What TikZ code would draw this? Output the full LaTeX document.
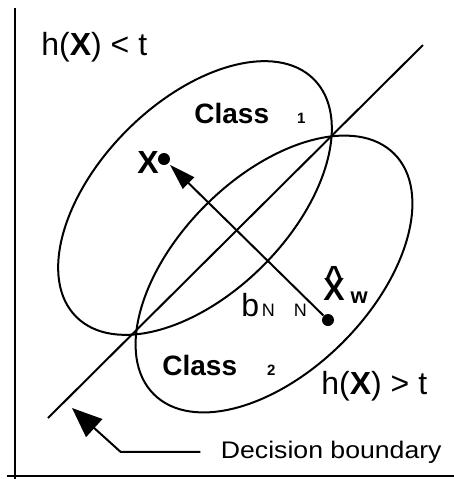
\documentclass[tikz,border=0pt]{standalone}
\usepackage{fontspec}
\setmainfont{Liberation Sans}
\usepackage{tikz}
\usetikzlibrary{arrows.meta}

\begin{document}
\begin{tikzpicture}[
    x=0.5pt, y=-0.5pt,
    axis/.style={line width=1.4pt},
    curve/.style={line width=1pt},
    vec/.style={-{Triangle[length=13pt,width=8pt]}, line width=1pt, shorten >=1pt},
    ptr/.style={-{Triangle[length=15pt,width=12pt]}, line width=1pt},
    dot/.style={circle, fill, inner sep=0pt, minimum size=6pt},
    lbl/.style={inner sep=0pt, anchor=base west, font=\fontsize{16}{19}\selectfont},
    cls/.style={inner sep=0pt, anchor=base west, font=\fontsize{14}{17}\selectfont\bfseries},
  ]
  \useasboundingbox (0,0) rectangle (454,479);

  % Axes
  \draw[axis] (15,8) -- (15,479);
  \draw[axis] (7,476) -- (454,476);

  % Class regions
  \draw[curve, rotate around={45:(195,198)}]
    (195,198) ellipse [x radius=84pt, y radius=48pt];
  \draw[curve, rotate around={45:(274,274)}]
    (274,274) ellipse [x radius=85pt, y radius=48.5pt];

  % Decision boundary
  \draw[curve] (48,418) -- (423,45);

  % Labels
  \node[lbl] (hlow) at (41,55) {h(\textbf{X}) < t};
  \node[lbl] (hhigh) at (321,394) {h(\textbf{X}) > t};
  \node[cls] (cls1) at (194,123) {Class\hspace{14pt}{\fontsize{7.5}{9}\selectfont 1}};
  \node[cls] (cls2) at (162,375) {Class\hspace{15pt}{\fontsize{7.5}{9}\selectfont 2}};

  % Points and the normal vector
  \node[dot] (xx) at (164,159) {};
  \node[dot] (xw) at (328,320) {};
  \node[lbl, font=\fontsize{16}{19}\selectfont\bfseries] (xlbl) at (137,173) {X};
  \node[lbl, font=\fontsize{16}{19}\selectfont\bfseries] (xwlbl) at (323,300)
    {\ooalign{X\cr\hidewidth\raisebox{6pt}{\textasciicircum}\hidewidth\cr}%
     \hspace{3pt}\raisebox{-1.5pt}{\fontsize{11}{13}\selectfont w}};
  \node[lbl] (bn) at (241,316) {b\hspace{1.4pt}{\fontsize{9}{11}\selectfont N\hspace{9.5pt}N}};
  \draw[vec] (xw) -- (xx);

  % Pointer to the boundary
  \node[lbl, font=\fontsize{12}{14}\selectfont, xscale=1.11] (db) at (220.5,458) {Decision boundary};
  \coordinate (tip) at (72,408);
  \draw[ptr] ([xshift=-10pt]db.west) -- ++(-40pt,0) -- (tip);

\end{tikzpicture}
\end{document}
